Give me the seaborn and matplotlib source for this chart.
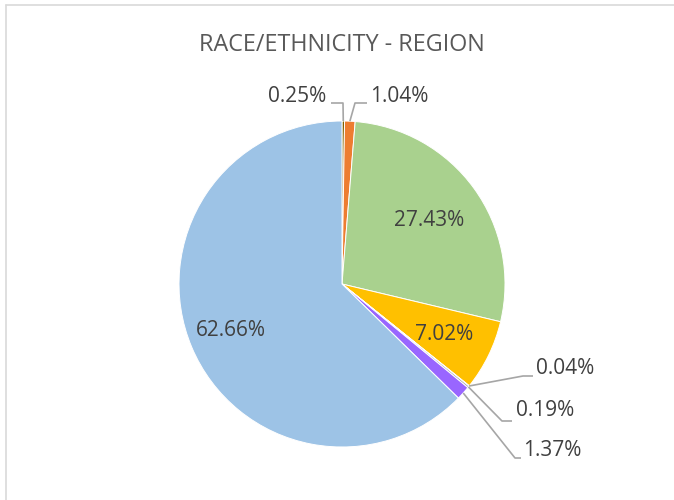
import numpy as np
import matplotlib
matplotlib.use("Agg")
import matplotlib.pyplot as plt
import seaborn as sns

# slice values, clockwise from 12 o'clock
groups = ["Group A", "Group B", "Group C", "Group D", "Group E", "Group F", "Group G", "Group H"]
shares = [0.25, 1.04, 27.43, 7.02, 0.04, 0.19, 1.37, 62.66]
pct_labels = ["0.25%", "1.04%", "27.43%", "7.02%", "0.04%", "0.19%", "1.37%", "62.66%"]
slice_colors = ["#7F6000", "#ED7D31", "#A9D18E", "#FFC000", "#548235", "#A5A5A5", "#9966FF", "#9DC3E6"]

sns.set_theme(style="white")
plt.rcParams["font.family"] = ["Open Sans", "DejaVu Sans"]

fig = plt.figure(figsize=(6.74, 5.0), dpi=100)
fig.patch.set_facecolor("white")

# chart frame (left / top border lines)
fig.add_artist(plt.Line2D([6 / 674, 6 / 674], [0, 1 - 5 / 500], color="#D9D9D9", lw=1.2))
fig.add_artist(plt.Line2D([6 / 674, 1], [1 - 5 / 500, 1 - 5 / 500], color="#D9D9D9", lw=1.2))

cx, cy, R = 342, 284, 163
ax = fig.add_axes([(cx - R) / 674, (500 - cy - R) / 500, 2 * R / 674, 2 * R / 500])
wedges, _ = ax.pie(shares, colors=slice_colors, startangle=90, counterclock=False,
                   wedgeprops=dict(edgecolor="white", linewidth=0.7))
ax.set_xlim(-1, 1)
ax.set_ylim(-1, 1)
ax.set_aspect("equal")
ax.axis("off")

txt_color = "#404040"
fs = 15

# inside labels for the big slices
inside = {2: 0.66, 3: 0.70, 7: 0.74}
for i, r in inside.items():
    w = wedges[i]
    ang = np.deg2rad((w.theta1 + w.theta2) / 2)
    ax.text(r * np.cos(ang), r * np.sin(ang), pct_labels[i], ha="center", va="center",
            fontsize=fs, color=txt_color)

# outside labels with leader lines: (elbow point, line end, text pos, ha)
def px(x, y):
    return ((x - cx) / R, (cy - y) / R)

outside = {
    0: (px(343, 103), px(331, 103), px(326, 96), "right"),
    1: (px(355, 103), px(367, 103), px(370, 96), "left"),
    4: (px(523, 376), px(533, 376), px(536, 369), "left"),
    5: (px(502, 421), px(512, 421), px(516, 411), "left"),
    6: (px(515, 458), px(521, 458), px(523, 451), "left"),
}
for i, (elbow, end, tpos, ha) in outside.items():
    w = wedges[i]
    ang = np.deg2rad((w.theta1 + w.theta2) / 2)
    start = (np.cos(ang), np.sin(ang))
    ax.plot([start[0], elbow[0], end[0]], [start[1], elbow[1], end[1]],
            color="#A6A6A6", lw=1.2, clip_on=False, solid_capstyle="butt")
    ax.text(tpos[0], tpos[1], pct_labels[i], ha=ha, va="center",
            fontsize=fs, color=txt_color)

fig.text(342 / 674, 1 - 45 / 500, "RACE/ETHNICITY - REGION", ha="center", va="center",
         fontsize=16.8, color="#595959")

fig.savefig("out.png", dpi=100)
